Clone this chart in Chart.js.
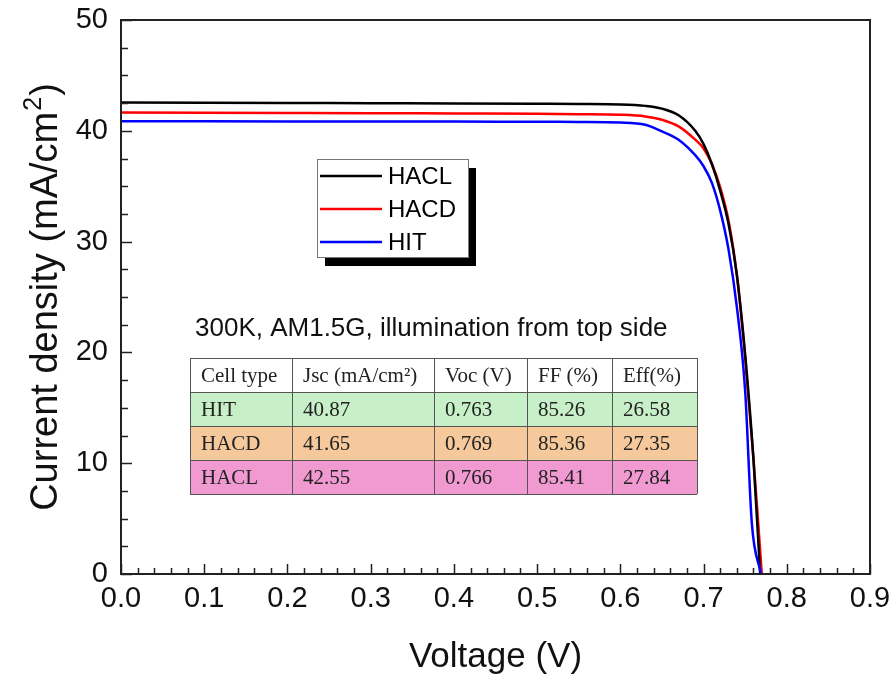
<!DOCTYPE html>
<html>
<head>
<meta charset="utf-8">
<script src="https://cdn.jsdelivr.net/npm/chart.js@4.4.0/dist/chart.umd.min.js"></script>
<style>
    body { margin: 0; background: #fff; }
    #wrap { width: 896px; height: 682px; }
</style>
</head>
<body>
<div id="wrap"><canvas id="jvChart"></canvas></div>
<script>
// J-V 曲线数据
const haclVoltage = [0, 0.1, 0.2, 0.3, 0.4, 0.5, 0.55, 0.6, 0.63, 0.65, 0.67, 0.69, 0.70, 0.71, 0.72, 0.73, 0.74, 0.75, 0.76, 0.768];
const haclCurrent = [42.55, 42.53, 42.51, 42.49, 42.47, 42.44, 42.42, 42.38, 42.25, 42.0, 41.4, 40.0, 38.8, 37.0, 34.6, 31.6, 27.0, 19.8, 10.3, 0];

const hacdVoltage = [0, 0.1, 0.2, 0.3, 0.4, 0.5, 0.55, 0.6, 0.63, 0.65, 0.67, 0.69, 0.70, 0.71, 0.72, 0.73, 0.74, 0.75, 0.76, 0.765, 0.770];
const hacdCurrent = [41.65, 41.63, 41.61, 41.59, 41.56, 41.53, 41.50, 41.45, 41.3, 41.0, 40.4, 39.2, 38.4, 37.0, 34.9, 31.9, 27.0, 19.5, 10.4, 5.3, 0];

const hitVoltage = [0, 0.1, 0.2, 0.3, 0.4, 0.5, 0.55, 0.6, 0.63, 0.65, 0.67, 0.69, 0.70, 0.71, 0.72, 0.73, 0.74, 0.75, 0.758, 0.769];
const hitCurrent = [40.87, 40.86, 40.85, 40.84, 40.83, 40.81, 40.80, 40.75, 40.55, 39.95, 39.2, 37.8, 36.8, 35.3, 32.8, 29.3, 24.1, 16.5, 4.6, 0];

// 表格内容
const tableTitle = '300K, AM1.5G, illumination from top side';
const tableHeader = ['Cell type', 'Jsc (mA/cm²)', 'Voc (V)', 'FF (%)', 'Eff(%)'];
const cellTypes = ['HIT', 'HACD', 'HACL'];
const jscValues = ['40.87', '41.65', '42.55'];
const vocValues = ['0.763', '0.769', '0.766'];
const ffValues = ['85.26', '85.36', '85.41'];
const effValues = ['26.58', '27.35', '27.84'];
const rowColors = ['#c8f0c8', '#f5c99b', '#f19ad2'];

function toPoints(volts, amps) {
    return volts.map((v, i) => ({x: v, y: amps[i]}));
}

// 坐标框 + 向内刻度 + 纵轴标题(上标)
const framePlugin = {
    id: 'frameTicks',
    afterDatasetsDraw(chart) {
        const ctx = chart.ctx;
        const {left, right, top, bottom} = chart.chartArea;
        const xs = chart.scales.x;
        const ys = chart.scales.y;
        ctx.save();
        ctx.strokeStyle = '#222';
        ctx.lineWidth = 2;
        ctx.strokeRect(left, top, right - left, bottom - top);
        ctx.lineWidth = 1.5;
        ctx.beginPath();
        for (let i = 0; i <= 45; i++) {
            const px = Math.round(xs.getPixelForValue(i * 0.02)) + 0.5;
            const len = i % 5 === 0 ? 10 : 6;
            ctx.moveTo(px, bottom);
            ctx.lineTo(px, bottom - len);
        }
        for (let i = 0; i <= 20; i++) {
            const py = Math.round(ys.getPixelForValue(i * 2.5)) + 0.5;
            const len = i % 4 === 0 ? 11 : 7;
            ctx.moveTo(left, py);
            ctx.lineTo(left + len, py);
        }
        ctx.stroke();

        // 纵轴标题
        const main = 'Current density (mA/cm';
        const sup = '2';
        const tail = ')';
        const bigFont = '38px "Liberation Sans", Arial, sans-serif';
        const supFont = '25px "Liberation Sans", Arial, sans-serif';
        ctx.font = bigFont;
        const wMain = ctx.measureText(main).width;
        const wTail = ctx.measureText(tail).width;
        ctx.font = supFont;
        const wSup = ctx.measureText(sup).width;
        const total = wMain + wSup + 2 + wTail;
        ctx.translate(43, (top + bottom) / 2);
        ctx.rotate(-Math.PI / 2);
        ctx.fillStyle = '#111';
        ctx.textBaseline = 'alphabetic';
        let x0 = -total / 2;
        ctx.font = bigFont;
        ctx.fillText(main, x0, 14);
        x0 += wMain + 1;
        ctx.font = supFont;
        ctx.fillText(sup, x0, -2);
        x0 += wSup + 1;
        ctx.font = bigFont;
        ctx.fillText(tail, x0, 14);
        ctx.restore();
    }
};

// 带阴影的图例
const legendPlugin = {
    id: 'shadowLegend',
    afterDraw(chart) {
        const ctx = chart.ctx;
        const bx = 317, by = 159, bw = 151, bh = 98;
        ctx.save();
        ctx.fillStyle = '#000';
        ctx.fillRect(bx + 8, by + 9, bw, bh);
        ctx.fillStyle = '#fff';
        ctx.fillRect(bx, by, bw, bh);
        ctx.strokeStyle = '#777';
        ctx.lineWidth = 1;
        ctx.strokeRect(bx + 0.5, by + 0.5, bw, bh);
        const order = [0, 1, 2];
        ctx.font = '24px "Liberation Sans", Arial, sans-serif';
        ctx.textBaseline = 'middle';
        order.forEach((idx, r) => {
            const ds = chart.data.datasets[idx];
            const y = by + 17 + r * 33;
            ctx.strokeStyle = ds.borderColor;
            ctx.lineWidth = 2.5;
            ctx.beginPath();
            ctx.moveTo(bx + 3, y);
            ctx.lineTo(bx + 65, y);
            ctx.stroke();
            ctx.fillStyle = '#000';
            ctx.fillText(ds.label, bx + 71, y + 1);
        });
        ctx.restore();
    }
};

// 参数表格
const tablePlugin = {
    id: 'paramTable',
    afterDraw(chart) {
        const ctx = chart.ctx;
        const colX = [190, 292, 434, 527, 612, 697];
        const rowY = [358, 392, 426, 460, 494];
        ctx.save();
        ctx.fillStyle = '#111';
        ctx.font = '26px "Liberation Sans", Arial, sans-serif';
        ctx.textBaseline = 'middle';
        ctx.fillText(tableTitle, 195, 329);

        const rows = [tableHeader];
        cellTypes.forEach((c, i) => {
            rows.push([c, jscValues[i], vocValues[i], ffValues[i], effValues[i]]);
        });
        rows.forEach((row, r) => {
            ctx.fillStyle = r === 0 ? '#fff' : rowColors[r - 1];
            ctx.fillRect(colX[0], rowY[r], colX[5] - colX[0], rowY[r + 1] - rowY[r]);
        });
        ctx.strokeStyle = '#555';
        ctx.lineWidth = 1;
        ctx.beginPath();
        rowY.forEach(y => { ctx.moveTo(colX[0], y + 0.5); ctx.lineTo(colX[5], y + 0.5); });
        colX.forEach(x => { ctx.moveTo(x + 0.5, rowY[0]); ctx.lineTo(x + 0.5, rowY[4]); });
        ctx.stroke();
        ctx.font = '21px "Liberation Serif", "Times New Roman", serif';
        ctx.fillStyle = '#222';
        rows.forEach((row, r) => {
            const cy = (rowY[r] + rowY[r + 1]) / 2 + 1;
            row.forEach((txt, c) => {
                ctx.fillText(txt, colX[c] + 11, cy);
            });
        });
        ctx.restore();
    }
};

const ctx = document.getElementById('jvChart').getContext('2d');
const jvChart = new Chart(ctx, {
    type: 'line',
    data: {
        datasets: [{
            label: 'HACL',
            data: toPoints(haclVoltage, haclCurrent),
            borderColor: '#000000',
            borderWidth: 2.5,
            pointRadius: 0,
            cubicInterpolationMode: 'monotone',
            fill: false,
            order: 1
        }, {
            label: 'HACD',
            data: toPoints(hacdVoltage, hacdCurrent),
            borderColor: '#ff0000',
            borderWidth: 2.5,
            pointRadius: 0,
            cubicInterpolationMode: 'monotone',
            fill: false,
            order: 2
        }, {
            label: 'HIT',
            data: toPoints(hitVoltage, hitCurrent),
            borderColor: '#0000ff',
            borderWidth: 2.5,
            pointRadius: 0,
            cubicInterpolationMode: 'monotone',
            fill: false,
            order: 0
        }]
    },
    options: {
        responsive: true,
        maintainAspectRatio: false,
        animation: false,
        layout: {
            padding: {left: 0, top: 20, right: 26, bottom: 0}
        },
        scales: {
            x: {
                type: 'linear',
                min: 0,
                max: 0.9,
                grid: {display: false, drawTicks: false, tickLength: 0},
                border: {display: false},
                ticks: {
                    stepSize: 0.1,
                    padding: 8,
                    color: '#111',
                    font: {family: '"Liberation Sans", Arial, sans-serif', size: 29},
                    callback: v => v.toFixed(1)
                },
                title: {
                    display: true,
                    text: 'Voltage (V)',
                    color: '#111',
                    font: {family: '"Liberation Sans", Arial, sans-serif', size: 35},
                    padding: {top: 0, bottom: 4}
                },
                afterFit: scale => {
                    scale.height = 108;
                    scale.paddingLeft = 0;
                    scale.paddingRight = 0;
                }
            },
            y: {
                min: 0,
                max: 50,
                grid: {display: false, drawTicks: false, tickLength: 0},
                border: {display: false},
                ticks: {
                    stepSize: 10,
                    padding: 13,
                    color: '#111',
                    font: {family: '"Liberation Sans", Arial, sans-serif', size: 29}
                },
                afterFit: scale => {
                    scale.width = 121;
                    scale.paddingTop = 0;
                    scale.paddingBottom = 0;
                }
            }
        },
        plugins: {
            legend: {display: false},
            tooltip: {enabled: false}
        }
    },
    plugins: [framePlugin, legendPlugin, tablePlugin]
});
</script>
</body>
</html>
